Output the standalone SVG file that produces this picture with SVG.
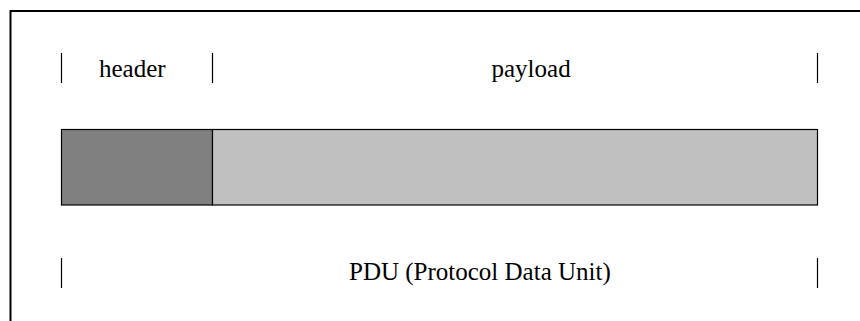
<svg xmlns="http://www.w3.org/2000/svg" width="860" height="321" viewBox="0 0 860 321">
  <style>
    .lbl { font-family: "Liberation Serif", "Times New Roman", serif; font-size: 25px; fill: #000; }
    .tick { stroke: #000; stroke-width: 1.2; fill: none; }
    .seg { stroke: #000; stroke-width: 1.2; }
  </style>
  <rect width="860" height="321" fill="#fff"/>
  <!-- outer frame, open past the right and bottom edges -->
  <rect x="10.5" y="11" width="870" height="330" fill="none" stroke="#000" stroke-width="2"/>

  <g id="connectors">
    <!-- upper dimension ticks -->
    <line class="tick" x1="61.5" y1="53" x2="61.5" y2="83"/>
    <line class="tick" x1="212.5" y1="53" x2="212.5" y2="83"/>
    <line class="tick" x1="817.5" y1="53" x2="817.5" y2="83"/>
    <!-- lower dimension ticks -->
    <line class="tick" x1="61.5" y1="258" x2="61.5" y2="288"/>
    <line class="tick" x1="817.5" y1="258" x2="817.5" y2="288"/>
  </g>

  <g id="header">
    <rect class="seg" x="61.5" y="129.5" width="151" height="75.5" fill="#808080"/>
    <text class="lbl" x="99" y="77">header</text>
  </g>

  <g id="payload">
    <rect class="seg" x="212.5" y="129.5" width="605" height="75.5" fill="#c0c0c0"/>
    <text class="lbl" x="491.5" y="77">payload</text>
  </g>

  <g id="pdu">
    <text class="lbl" x="349" y="280">PDU (Protocol Data Unit)</text>
  </g>
</svg>
